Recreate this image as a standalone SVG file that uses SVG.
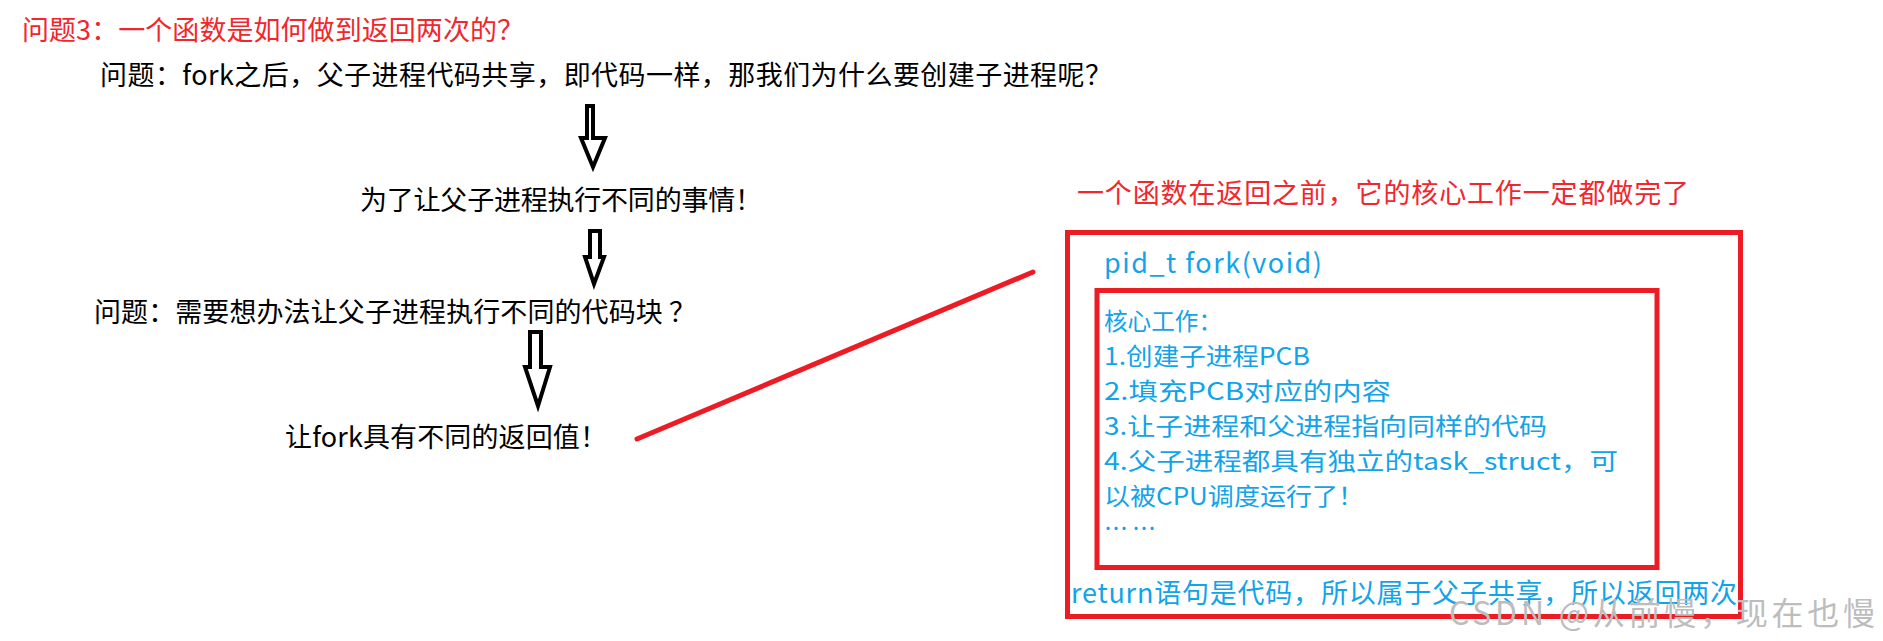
<svg xmlns="http://www.w3.org/2000/svg" width="1883" height="641" viewBox="0 0 1883 641">
<style>
text{font-family:"Noto Sans CJK SC","Noto Sans",sans-serif;font-size:27px}
.red{fill:#f2262d}
.blk{fill:#000}
.blue{fill:#12a3e8}
.list{font-size:24px}
.box{fill:none;stroke:#ed1c24;stroke-width:5}
.arrow{fill:#fff;stroke:#000;stroke-width:4;stroke-linejoin:miter}
.wm{fill:#bdbdbd;font-size:32px}
</style>
<rect width="1883" height="641" fill="#fff"/>
<g id="title"><text class="red" x="22" y="40" textLength="502">问题3：一个函数是如何做到返回两次的？</text></g>
<g id="q1"><text class="blk" x="100" y="85" textLength="1012">问题：fork之后，父子进程代码共享，即代码一样，那我们为什么要创建子进程呢？</text></g>
<g id="a1"><text class="blk" x="360" y="210" textLength="402">为了让父子进程执行不同的事情！</text></g>
<g id="q2"><text class="blk" x="94" y="322" textLength="602">问题：需要想办法让父子进程执行不同的代码块 ？</text></g>
<g id="a2"><text class="blk" x="285" y="447" textLength="322">让fork具有不同的返回值！</text></g>
<g id="note"><text class="red" x="1077" y="203" textLength="612">一个函数在返回之前，它的核心工作一定都做完了</text></g>
<g id="fork-box">
<rect class="box" x="1067.5" y="232.5" width="673" height="384"/>
<text class="blue" x="1104" y="273" textLength="218">pid_t fork(void)</text>
<text class="blue" x="1071" y="603" textLength="666">return语句是代码，所以属于父子共享，所以返回两次</text>
</g>
<g id="core-box">
<rect class="box" x="1097" y="290.5" width="560" height="277"/>
<text class="blue list" x="1104" y="330" textLength="118" lengthAdjust="spacingAndGlyphs">核心工作：</text>
<text class="blue list" x="1104" y="365" textLength="206" lengthAdjust="spacingAndGlyphs">1.创建子进程PCB</text>
<text class="blue list" x="1104" y="400" textLength="287" lengthAdjust="spacingAndGlyphs">2.填充PCB对应的内容</text>
<text class="blue list" x="1104" y="435" textLength="443" lengthAdjust="spacingAndGlyphs">3.让子进程和父进程指向同样的代码</text>
<text class="blue list" x="1104" y="470" textLength="514" lengthAdjust="spacingAndGlyphs">4.父子进程都具有独立的task_struct，可</text>
<text class="blue list" x="1104" y="505" textLength="260" lengthAdjust="spacingAndGlyphs">以被CPU调度运行了！</text>
<text class="blue list" x="1104" y="537" textLength="52">……</text>
</g>
<g id="connectors">
<path class="arrow" d="M587,106 H593 V138 H605 L593,167 L581,138 H587 Z"/>
<path class="arrow" d="M590,231 H600 V257 H604 L594,284 L585,257 H590 Z"/>
<path class="arrow" d="M530,332 H541 V367 H550 L538,406 L525,367 H530 Z"/>
<line x1="637" y1="439" x2="1033" y2="272" stroke="#ed1c24" stroke-width="5" stroke-linecap="round"/>
</g>
<g id="watermark"><text class="wm" x="1449" y="625" textLength="426">CSDN @从前慢，现在也慢</text></g>
</svg>
